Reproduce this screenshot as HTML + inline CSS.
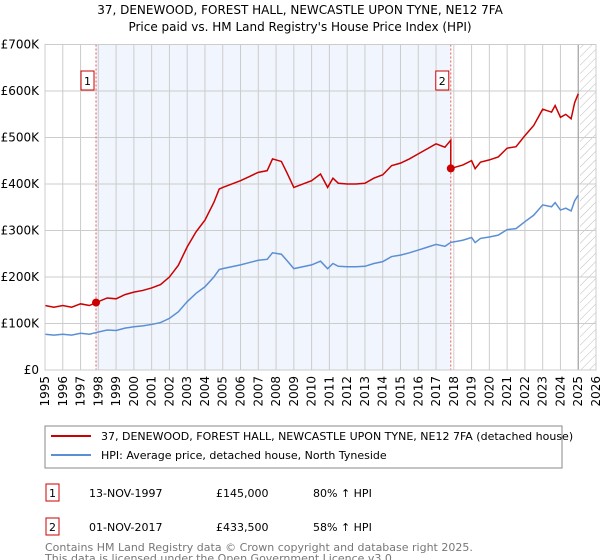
<!DOCTYPE html>
<html><head><meta charset="utf-8"><style>
body{margin:0;background:#fff;width:600px;height:560px;overflow:hidden;font-family:"DejaVu Sans","Liberation Sans",sans-serif}
svg{display:block}
</style></head><body>
<svg id="c" width="600" height="560" xmlns="http://www.w3.org/2000/svg">
<defs><pattern id="hatch" width="6" height="6" patternUnits="userSpaceOnUse" patternTransform="rotate(45)"><line x1="0" y1="0" x2="0" y2="6" stroke="#bbb" stroke-width="1"/></pattern></defs>
<text x="300" y="14" text-anchor="middle" font-size="12">37, DENEWOOD, FOREST HALL, NEWCASTLE UPON TYNE, NE12 7FA</text>
<text x="300" y="31" text-anchor="middle" font-size="12">Price paid vs. HM Land Registry's House Price Index (HPI)</text>
<g id="plot"></g>
<rect x="45" y="426" width="517" height="42" fill="#fff" stroke="#888"/>
<line x1="51" y1="436" x2="91" y2="436" stroke="#cc0000" stroke-width="2"/>
<text x="101" y="440" font-size="11">37, DENEWOOD, FOREST HALL, NEWCASTLE UPON TYNE, NE12 7FA (detached house)</text>
<line x1="51" y1="455" x2="91" y2="455" stroke="#5b8fd4" stroke-width="2"/>
<text x="101" y="459" font-size="11">HPI: Average price, detached house, North Tyneside</text>
<g font-size="11">
<rect x="46" y="484" width="13" height="17" fill="#fff" stroke="#cc0000"/>
<text x="52.5" y="497" text-anchor="middle">1</text>
<text x="89" y="497">13-NOV-1997</text>
<text x="216" y="497">£145,000</text>
<text x="313" y="497">80% ↑ HPI</text>
<rect x="46" y="518" width="13" height="17" fill="#fff" stroke="#cc0000"/>
<text x="52.5" y="531" text-anchor="middle">2</text>
<text x="89" y="531">01-NOV-2017</text>
<text x="216" y="531">£433,500</text>
<text x="313" y="531">58% ↑ HPI</text>
</g>
<text x="45" y="551" font-size="11" fill="#777">Contains HM Land Registry data © Crown copyright and database right 2025.</text>
<text x="45" y="562" font-size="11" fill="#777">This data is licensed under the Open Government Licence v3.0.</text>
</svg>
<script>
const hpiYears=[1995,1995.5,1996,1996.5,1997,1997.5,1997.87,1998.5,1999,1999.5,2000,2000.5,2001,2001.5,2002,2002.5,2003,2003.5,2004,2004.5,2004.8,2005,2006,2006.5,2007,2007.5,2007.8,2008.3,2008.6,2009,2009.5,2010,2010.5,2010.9,2011.2,2011.5,2012,2012.5,2013,2013.5,2014,2014.5,2015,2015.5,2016,2016.5,2017,2017.5,2017.83,2018.5,2019,2019.2,2019.5,2020,2020.5,2021,2021.5,2022,2022.5,2023,2023.5,2023.7,2024,2024.3,2024.6,2024.8,2025];
const hpiValues=[77,75,77,75,79,77,80.5,86,85,90,93,95,98,102,111,125,147,165,179,200,216,218,226,231,236,238,252,249,236,218,222,226,234,218,229,223,222,222,223,229,233,244,247,252,258,264,270,266,274.4,279,285,274,283,286,290,302,304,319,333,355,351,360,344,348,342,364,376];
const saleYears=[1997.87,2017.83];
const salePrices=[145,433.5];
const yTicks=[0,100,200,300,400,500,600,700];
const yTickLabels=["£0","£100K","£200K","£300K","£400K","£500K","£600K","£700K"];
const xTicks=[1995,1996,1997,1998,1999,2000,2001,2002,2003,2004,2005,2006,2007,2008,2009,2010,2011,2012,2013,2014,2015,2016,2017,2018,2019,2020,2021,2022,2023,2024,2025,2026];
const X0=45,X1=596,Y0=370,Y1=44.5;
const xs=y=>X0+(y-1995)/31*(X1-X0);
const ys=v=>Y0-v/700*(Y0-Y1);
const NS="http://www.w3.org/2000/svg";
const g=document.getElementById('plot');
function mk(t,a){const e=document.createElementNS(NS,t);for(const k in a)e.setAttribute(k,a[k]);g.appendChild(e);return e;}
let e=mk('rect',{x:xs(saleYears[0]),y:Y1,width:xs(saleYears[1])-xs(saleYears[0]),height:Y0-Y1,fill:'#eef3fc',opacity:0.8});


e=mk('rect',{x:xs(2025.1),y:Y1,width:X1-xs(2025.1),height:Y0-Y1,fill:'url(#hatch)'});


xTicks.forEach(t=>{const x=xs(t);
 const l=mk('line',{x1:x,y1:Y1,x2:x,y2:Y0,stroke:'#ccc','stroke-width':1});
 
 
 const tx=mk('text',{x:0,y:0,'font-size':12,'text-anchor':'end',transform:`translate(${x+4},${Y0+6}) rotate(-90)`});
 tx.textContent=t;
 
 
});
yTicks.forEach((t,i)=>{const y=ys(t);
 const l=mk('line',{x1:X0,y1:y,x2:X1,y2:y,stroke:'#ccc','stroke-width':1});
 
 
 const tx=mk('text',{x:X0-6,y:y+4,'font-size':12,'text-anchor':'end'});
 tx.textContent=yTickLabels[i];
 
 
});
e=mk('line',{x1:xs(2025),y1:Y1,x2:xs(2025),y2:Y0,stroke:'#999','stroke-width':1});


saleYears.forEach((s,i)=>{const x=xs(s);
 const l=mk('line',{x1:x,y1:Y1,x2:x,y2:Y0,stroke:'#e55','stroke-width':1,'stroke-dasharray':'2,2'});
 
 
 const r=mk('rect',{x:x-15,y:71,width:13,height:19,fill:'#fff',stroke:'#cc0000'});
 
 
 const t=mk('text',{x:x-8.5,y:85,'font-size':11,'text-anchor':'middle'});t.textContent=String(i+1);
 
 
});
const hpiAt=yr=>{for(let i=1;i<hpiYears.length;i++){if(hpiYears[i]>=yr){const f=(yr-hpiYears[i-1])/(hpiYears[i]-hpiYears[i-1]);return hpiValues[i-1]+f*(hpiValues[i]-hpiValues[i-1]);}}return hpiValues[hpiValues.length-1];};
const blue=hpiYears.map((y,i)=>xs(y)+','+ys(hpiValues[i])).join(' ');
e=mk('polyline',{points:blue,fill:'none',stroke:'#5b8fd4','stroke-width':1.5});


const red=[];
hpiYears.forEach((y,i)=>{let k=0;for(let j=0;j<saleYears.length;j++)if(y>=saleYears[j]-1e-6)k=j;
 if(y<saleYears[0])k=0;
 const f=salePrices[k]/hpiAt(saleYears[k]);
 if(k===1&&Math.abs(y-saleYears[1])<1e-6){red.push(xs(y)+','+ys(hpiValues[i]*salePrices[0]/hpiAt(saleYears[0])));}
 red.push(xs(y)+','+ys(hpiValues[i]*f));});
e=mk('polyline',{points:red.join(' '),fill:'none',stroke:'#cc0000','stroke-width':1.5});


saleYears.forEach((s,i)=>{const c=mk('circle',{cx:xs(s),cy:ys(salePrices[i]),r:4,fill:'#cc0000'});
 
 
});
e=mk('rect',{x:X0,y:Y1,width:X1-X0,height:Y0-Y1,fill:'none',stroke:'#ccc'});


</script>
</body></html>
